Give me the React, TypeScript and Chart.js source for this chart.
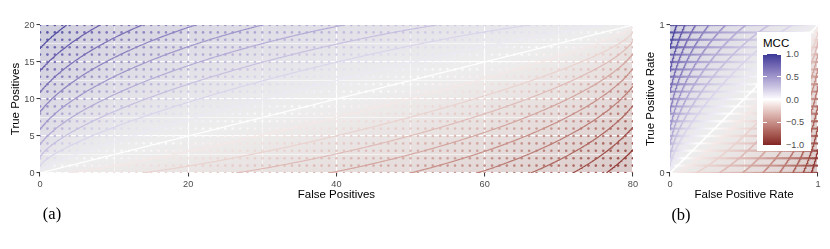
import React, { useEffect, useRef } from "react";
import { Chart, registerables } from "chart.js";
Chart.register(...registerables);

// ---- data ----
const TOTAL_POSITIVES = 20;
const TOTAL_NEGATIVES = 80;
const falsePositives = Array.from({ length: TOTAL_NEGATIVES + 1 }, (_, i) => i);
const truePositives = Array.from({ length: TOTAL_POSITIVES + 1 }, (_, i) => i);
const mccLevels = [-0.9, -0.8, -0.7, -0.6, -0.5, -0.4, -0.3, -0.2, -0.1, 0, 0.1, 0.2, 0.3, 0.4, 0.5, 0.6, 0.7, 0.8, 0.9];
const countTicksX = [0, 20, 40, 60, 80];
const countGridX = [0, 10, 20, 30, 40, 50, 60, 70, 80];
const countTicksY = [0, 5, 10, 15, 20];
const countGridY = [0, 2.5, 5, 7.5, 10, 12.5, 15, 17.5, 20];
const rateTicks = [0, 1];
const rateGrid = [0, 0.5, 1];
const legendBreaks = [1, 0.5, 0, -0.5, -1];
const legendLabels = ["1.0", "0.5", "0.0", "\u22120.5", "\u22121.0"];

const COLOR_HIGH = "#3A3A98";
const COLOR_MID = "#FFFFFF";
const COLOR_LOW = "#832424";
const PANEL_BG = "#EBEBEB";
const FIELD_ALPHA = 0.17;
const DOT_ALPHA = 0.85;
const SANS = "'Liberation Sans', Arial, sans-serif";
const SERIF = "'Liberation Serif', 'Times New Roman', serif";

// ---- MCC ----
function mcc(fp: number, tp: number): number {
  const tn = TOTAL_NEGATIVES - fp;
  const fn = TOTAL_POSITIVES - tp;
  const den = (tp + fp) * (tp + fn) * (tn + fp) * (tn + fn);
  if (den <= 0) return 0;
  return (tp * tn - fp * fn) / Math.sqrt(den);
}

// ---- colour (Lab interpolation like ggplot's gradient2) ----
function hexToRgb(h: string): number[] {
  return [parseInt(h.slice(1, 3), 16), parseInt(h.slice(3, 5), 16), parseInt(h.slice(5, 7), 16)];
}
const toLin = (c: number) => { c /= 255; return c <= 0.04045 ? c / 12.92 : Math.pow((c + 0.055) / 1.055, 2.4); };
const fromLin = (c: number) => { const v = c <= 0.0031308 ? 12.92 * c : 1.055 * Math.pow(c, 1 / 2.4) - 0.055; return Math.round(Math.max(0, Math.min(1, v)) * 255); };
function rgbToLab(rgb: number[]): number[] {
  const [r, g, b] = rgb.map(toLin);
  const X = (0.4124564 * r + 0.3575761 * g + 0.1804375 * b) / 0.95047;
  const Y = 0.2126729 * r + 0.7151522 * g + 0.072175 * b;
  const Z = (0.0193339 * r + 0.119192 * g + 0.9503041 * b) / 1.08883;
  const f = (t: number) => (t > 0.008856 ? Math.cbrt(t) : 7.787 * t + 16 / 116);
  const fx = f(X), fy = f(Y), fz = f(Z);
  return [116 * fy - 16, 500 * (fx - fy), 200 * (fy - fz)];
}
function labToRgb(lab: number[]): number[] {
  const [L, a, bb] = lab;
  const fy = (L + 16) / 116, fx = fy + a / 500, fz = fy - bb / 200;
  const fi = (t: number) => (t * t * t > 0.008856 ? t * t * t : (t - 16 / 116) / 7.787);
  const X = fi(fx) * 0.95047, Y = fi(fy), Z = fi(fz) * 1.08883;
  const r = 3.2404542 * X - 1.5371385 * Y - 0.4985314 * Z;
  const g = -0.969266 * X + 1.8760108 * Y + 0.041556 * Z;
  const b = 0.0556434 * X - 0.2040259 * Y + 1.0572252 * Z;
  return [fromLin(r), fromLin(g), fromLin(b)];
}
const LAB_HIGH = rgbToLab(hexToRgb(COLOR_HIGH));
const LAB_MID = rgbToLab(hexToRgb(COLOR_MID));
const LAB_LOW = rgbToLab(hexToRgb(COLOR_LOW));
function mccRgb(m: number): number[] {
  const t = Math.min(1, Math.abs(m));
  const end = m >= 0 ? LAB_HIGH : LAB_LOW;
  return labToRgb(LAB_MID.map((v, i) => v + (end[i] - v) * t));
}
const colorCache = new Map<string, string>();
function mccColor(m: number, alpha: number): string {
  const key = Math.round(m * 400) + "|" + alpha;
  let c = colorCache.get(key);
  if (!c) {
    const [r, g, b] = mccRgb(Math.round(m * 400) / 400);
    c = `rgba(${r},${g},${b},${alpha})`;
    colorCache.set(key, c);
  }
  return c;
}

// ---- contour lines ----
function contourPoints(level: number, sx: number, sy: number) {
  const pts: { x: number; y: number }[] = [];
  for (let fp = 0; fp <= TOTAL_NEGATIVES + 1e-9; fp += 0.25) {
    const lo = mcc(fp, 0), hi = mcc(fp, TOTAL_POSITIVES);
    if (level < Math.min(lo, hi) || level > Math.max(lo, hi)) continue;
    let a = 0, b = TOTAL_POSITIVES;
    for (let k = 0; k < 44; k++) { const m = (a + b) / 2; if (mcc(fp, m) < level) a = m; else b = m; }
    pts.push({ x: fp, y: (a + b) / 2 });
  }
  for (let tp = 0; tp <= TOTAL_POSITIVES + 1e-9; tp += 0.1) {
    const lo = mcc(TOTAL_NEGATIVES, tp), hi = mcc(0, tp);
    if (level < Math.min(lo, hi) || level > Math.max(lo, hi)) continue;
    let a = 0, b = TOTAL_NEGATIVES;
    for (let k = 0; k < 44; k++) { const m = (a + b) / 2; if (mcc(m, tp) > level) a = m; else b = m; }
    pts.push({ x: (a + b) / 2, y: tp });
  }
  pts.sort((p, q) => p.x - q.x || p.y - q.y);
  return pts.map((p) => ({ x: p.x * sx, y: p.y * sy }));
}

function buildDatasets(sx: number, sy: number, lineWidth: number, dotRadius: number) {
  const lines = mccLevels.map((lv) => ({
    data: contourPoints(lv, sx, sy),
    showLine: true,
    pointRadius: 0,
    borderColor: mccColor(lv, 1),
    borderWidth: lineWidth,
    tension: 0,
    fill: false,
    clip: 0,
    order: 0,
  }));
  const dotData: { x: number; y: number }[] = [];
  const dotColors: string[] = [];
  for (const tp of truePositives) {
    for (const fp of falsePositives) {
      dotData.push({ x: fp * sx, y: tp * sy });
      dotColors.push(mccColor(mcc(fp, tp), DOT_ALPHA));
    }
  }
  const dots = {
    data: dotData,
    showLine: false,
    pointRadius: dotRadius,
    pointBackgroundColor: dotColors,
    pointBorderWidth: 0,
    clip: 0,
    order: 1,
  };
  return [...lines, dots];
}

function fieldPlugin(sx: number, sy: number, dfp: number, dtp: number) {
  return {
    id: "mccField",
    beforeDraw(chart: any) {
      const { ctx, chartArea } = chart;
      const { left, right, top, bottom } = chartArea;
      const xs = chart.scales.x, ys = chart.scales.y;
      ctx.save();
      ctx.fillStyle = PANEL_BG;
      ctx.fillRect(left, top, right - left, bottom - top);
      ctx.beginPath();
      ctx.rect(left, top, right - left, bottom - top);
      ctx.clip();
      for (let fp = 0; fp <= TOTAL_NEGATIVES; fp += dfp) {
        const x0 = Math.round(xs.getPixelForValue((fp - dfp / 2) * sx));
        const x1 = Math.round(xs.getPixelForValue((fp + dfp / 2) * sx));
        if (x1 <= x0) continue;
        for (let tp = 0; tp <= TOTAL_POSITIVES; tp += dtp) {
          const y0 = Math.round(ys.getPixelForValue((tp + dtp / 2) * sy));
          const y1 = Math.round(ys.getPixelForValue((tp - dtp / 2) * sy));
          if (y1 <= y0) continue;
          ctx.fillStyle = mccColor(mcc(fp, tp), FIELD_ALPHA);
          ctx.fillRect(x0, y0, x1 - x0, y1 - y0);
        }
      }
      ctx.restore();
    },
  };
}

function axis(opts: {
  min: number; max: number; grid: number[]; labels: number[]; fmt: (v: number) => string;
  title: string; size: number; horizontal: boolean; titlePad: number;
}) {
  const isMajor = (v: number) => opts.labels.some((l) => Math.abs(l - v) < 1e-9);
  return {
    type: "linear",
    min: opts.min,
    max: opts.max,
    afterBuildTicks: (s: any) => { s.ticks = opts.grid.map((v) => ({ value: v })); },
    afterFit: (s: any) => { if (opts.horizontal) s.height = opts.size; else s.width = opts.size; },
    border: { display: false },
    grid: {
      color: "#FFFFFF",
      lineWidth: (c: any) => (isMajor(c.tick.value) ? 1.1 : 0.55),
      drawOnChartArea: true,
      drawTicks: true,
      tickLength: 3.5,
      tickWidth: 1,
      tickColor: (c: any) => (isMajor(c.tick.value) ? "#333333" : "rgba(0,0,0,0)"),
    },
    ticks: {
      autoSkip: false,
      maxRotation: 0,
      minRotation: 0,
      padding: 2,
      color: "#4D4D4D",
      font: { family: SANS, size: 9.2 },
      callback: (v: any) => (isMajor(Number(v)) ? opts.fmt(Number(v)) : ""),
    },
    title: {
      display: true,
      text: opts.title,
      color: "#000000",
      font: { family: SANS, size: 11.5 },
      padding: opts.horizontal ? { top: 0, bottom: opts.titlePad } : { top: opts.titlePad, bottom: 0 },
    },
  };
}

export default function App() {
  const refA = useRef<HTMLCanvasElement>(null);
  const refB = useRef<HTMLCanvasElement>(null);

  useEffect(() => {
    const common = {
      animation: false,
      responsive: false,
      events: [],
      plugins: { legend: { display: false }, tooltip: { enabled: false } },
    };
    const chartA = new Chart(refA.current as HTMLCanvasElement, {
      type: "scatter",
      data: { datasets: buildDatasets(1, 1, 1.15, 1.3) as any },
      options: {
        ...common,
        layout: { padding: { left: 0, right: 6, top: 25, bottom: 36 }, autoPadding: false },
        scales: {
          x: axis({ min: 0, max: TOTAL_NEGATIVES, grid: countGridX, labels: countTicksX, fmt: (v) => String(v), title: "False Positives", size: 40, horizontal: true, titlePad: 11 }),
          y: axis({ min: 0, max: TOTAL_POSITIVES, grid: countGridY, labels: countTicksY, fmt: (v) => String(v), title: "True Positives", size: 40, horizontal: false, titlePad: 9.3 }),
        },
      } as any,
      plugins: [fieldPlugin(1, 1, 0.5, 0.25) as any],
    });
    const sx = 1 / TOTAL_NEGATIVES, sy = 1 / TOTAL_POSITIVES;
    const chartB = new Chart(refB.current as HTMLCanvasElement, {
      type: "scatter",
      data: { datasets: buildDatasets(sx, sy, 1.4, 1.2) as any },
      options: {
        ...common,
        layout: { padding: { left: 0, right: 12, top: 25, bottom: 36 }, autoPadding: false },
        scales: {
          x: axis({ min: 0, max: 1, grid: rateGrid, labels: rateTicks, fmt: (v) => String(v), title: "False Positive Rate", size: 40, horizontal: true, titlePad: 11 }),
          y: axis({ min: 0, max: 1, grid: rateGrid, labels: rateTicks, fmt: (v) => String(v), title: "True Positive Rate", size: 30, horizontal: false, titlePad: 4 }),
        },
      } as any,
      plugins: [fieldPlugin(sx, sy, 0.5, 0.25) as any],
    });
    return () => {
      chartA.destroy();
      chartB.destroy();
    };
  }, []);

  const barTop = 22, barH = 91, barW = 18;
  const stops = Array.from({ length: 41 }, (_, i) => {
    const m = 1 - i / 20;
    const [r, g, b] = mccRgb(m);
    return `rgb(${r},${g},${b}) ${(i / 40) * 100}%`;
  }).join(", ");

  return (
    <div style={{ position: "absolute", left: 0, top: 0, width: 830, height: 249, background: "#fff", overflow: "hidden" }}>
      <canvas ref={refA} width={640} height={249} style={{ position: "absolute", left: 0, top: 0 }} />
      <canvas ref={refB} width={190} height={249} style={{ position: "absolute", left: 640, top: 0 }} />
      <div style={{ position: "absolute", left: 757, top: 32, width: 54, height: 119, background: "#fff", fontFamily: SANS }}>
        <div style={{ position: "absolute", left: 6, top: 4, fontSize: 11.5, lineHeight: "14px", color: "#000" }}>MCC</div>
        <div style={{ position: "absolute", left: 6, top: barTop, width: barW, height: barH, background: `linear-gradient(to bottom, ${stops})` }}>
          {legendBreaks.map((v, i) => {
            const y = ((1 - v) / 2) * barH - 0.5;
            return (
              <React.Fragment key={i}>
                <div style={{ position: "absolute", left: 0, top: y, width: 3.6, height: 1, background: "#fff" }} />
                <div style={{ position: "absolute", right: 0, top: y, width: 3.6, height: 1, background: "#fff" }} />
              </React.Fragment>
            );
          })}
        </div>
        {legendBreaks.map((v, i) => (
          <div key={i} style={{ position: "absolute", left: 29, top: barTop + ((1 - v) / 2) * barH - 6, fontSize: 9.2, lineHeight: "12px", color: "#4D4D4D", whiteSpace: "nowrap" }}>
            {legendLabels[i]}
          </div>
        ))}
      </div>
      <div style={{ position: "absolute", left: 52, top: 214, transform: "translate(-50%,-50%)", fontFamily: SERIF, fontSize: 16.5, color: "#000", whiteSpace: "nowrap" }}>(a)</div>
      <div style={{ position: "absolute", left: 681, top: 215, transform: "translate(-50%,-50%)", fontFamily: SERIF, fontSize: 16.5, color: "#000", whiteSpace: "nowrap" }}>(b)</div>
    </div>
  );
}
